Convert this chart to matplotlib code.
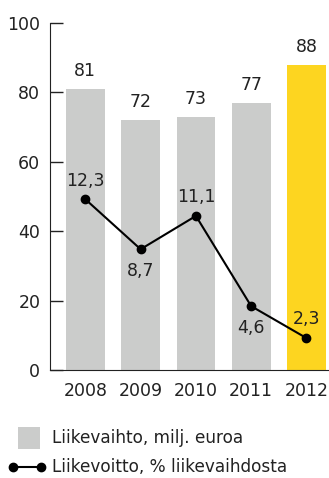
import matplotlib
matplotlib.use("Agg")
import matplotlib.pyplot as plt
from matplotlib.patches import Rectangle
from matplotlib.lines import Line2D

years = ["2008", "2009", "2010", "2011", "2012"]
revenue = [81, 72, 73, 77, 88]
margin = [12.3, 8.7, 11.1, 4.6, 2.3]
margin_labels = ["12,3", "8,7", "11,1", "4,6", "2,3"]
label_pos = ["above", "below", "above", "below", "above"]
bar_colors = ["#cbcccb", "#cbcccb", "#cbcccb", "#cbcccb", "#fdd520"]
legend_labels = ["Liikevaihto, milj. euroa", "Liikevoitto, % liikevaihdosta"]

plt.rcParams['font.family'] = ['DejaVu Sans']
fs = 12.5
tc = '#222222'

W, H = 329, 478
fig = plt.figure(figsize=(W / 100, H / 100), dpi=100)
ax = fig.add_axes([50 / W, 1 - 370 / H, 278 / W, 347 / H])
x = list(range(len(years)))
ax.bar(x, revenue, width=0.7, color=bar_colors, zorder=1)
for xi, v in zip(x, revenue):
    ax.annotate(str(v), (xi, v), xytext=(0, 6.5), textcoords='offset points',
                ha='center', va='bottom', fontsize=fs, color=tc)

ax.set_xlim(-0.64, 4.39)
ax.set_ylim(0, 100)
ax.set_yticks([0, 20, 40, 60, 80, 100])
ax.set_xticks(x)
ax.set_xticklabels(years)
ax.tick_params(axis='y', direction='in', length=9, width=1, labelsize=fs, pad=7, colors=tc)
ax.tick_params(axis='x', length=0, labelsize=fs, pad=9, colors=tc)
for s in ['top', 'right']:
    ax.spines[s].set_visible(False)
ax.spines['left'].set_color(tc)
ax.spines['bottom'].set_color(tc)

ax2 = ax.twinx()
ax2.set_ylim(0, 25)
ax2.axis('off')
ax2.plot(x, margin, color='black', lw=1.5, marker='o', markersize=6, zorder=3)
for xi, v, lab, pos in zip(x, margin, margin_labels, label_pos):
    if pos == 'above':
        ax2.annotate(lab, (xi, v), xytext=(0, 7), textcoords='offset points',
                     ha='center', va='bottom', fontsize=fs, color=tc)
    else:
        ax2.annotate(lab, (xi, v), xytext=(0, -9), textcoords='offset points',
                     ha='center', va='top', fontsize=fs, color=tc)

# legend drawn in figure pixel coordinates
fig.patches.append(Rectangle((18 / W, 1 - 449 / H), 22 / W, 22 / H,
                             transform=fig.transFigure, facecolor='#cbcccb',
                             edgecolor='none'))
fig.lines.append(Line2D([13 / W, 41 / W], [1 - 467 / H, 1 - 467 / H],
                        transform=fig.transFigure, color='black', lw=1.5,
                        marker='o', markersize=6))
fig.text(52 / W, 1 - 438 / H, legend_labels[0], ha='left', va='center',
         fontsize=12.2, color=tc)
fig.text(52 / W, 1 - 467 / H, legend_labels[1], ha='left', va='center',
         fontsize=12.2, color=tc)

fig.savefig("out.png", dpi=100)
